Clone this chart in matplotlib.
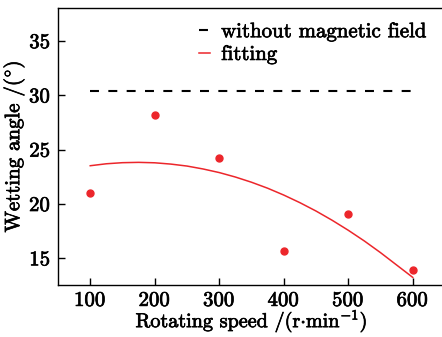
import matplotlib
matplotlib.use("Agg")
import matplotlib.pyplot as plt
import matplotlib.patheffects as pe

speed = [100, 200, 300, 400, 500, 600]
angle = [21.0, 28.2, 24.26, 15.67, 19.1, 13.9]

fit_x = [100, 125, 150, 175, 200, 225, 250, 275, 300, 325, 350, 375, 400,
         425, 450, 475, 500, 525, 550, 575, 600]
fit_y = [23.53, 23.71, 23.81, 23.84, 23.80, 23.68, 23.50, 23.23, 22.90, 22.49,
         22.01, 21.46, 20.83, 20.13, 19.36, 18.51, 17.59, 16.60, 15.53, 14.39, 13.25]

ref_x = [100, 600]
ref_y = [30.45, 30.45]

xticks = [100, 200, 300, 400, 500, 600]
yticks = [15, 20, 25, 30, 35]

plt.rcParams['font.family'] = ['cmr10', 'DejaVu Serif']
plt.rcParams['mathtext.fontset'] = 'cm'
plt.rcParams['axes.formatter.use_mathtext'] = True

fig = plt.figure(figsize=(4.42, 3.37), dpi=100)
W, H = 442, 337
left, right, top, bottom = 58, 445, 8, 285
ax = fig.add_axes([left / W, 1 - bottom / H, (right - left) / W, (bottom - top) / H])

red = '#ec262b'
ax.plot(ref_x, ref_y, color='black', lw=1.5, dashes=(4.3, 4.5), label='without magnetic field')
ax.plot(fit_x, fit_y, color=red, lw=1.1, label='fitting')
ax.plot(speed, angle, 'o', color=red, ms=5, mec=red)

ax.set_xlim(50, 650)
ax.set_ylim(12.55, 38.05)
ax.set_xticks(xticks)
ax.set_yticks(yticks)
ax.tick_params(direction='in', length=5, width=1, labelsize=15, pad=5, top=False, right=False)
for s in ax.spines.values():
    s.set_linewidth(1.0)

xl = ax.set_xlabel(r'Rotating speed /(r$\cdot$min$^{-1}$)', fontsize=14.5, labelpad=-1)
yl = ax.set_ylabel(r'Wetting angle /($^{\circ}$)', fontsize=15, labelpad=2)

leg = ax.legend(loc='upper right', frameon=False, fontsize=15, handlelength=0.5,
                handletextpad=0.55, labelspacing=0.2, borderaxespad=0.3,
                bbox_to_anchor=(0.99, 1.0))

stroke = [pe.withStroke(linewidth=0.5, foreground='black')]
texts = [xl, yl] + ax.get_xticklabels() + ax.get_yticklabels() + leg.get_texts()
for t in texts:
    t.set_path_effects(stroke)

fig.savefig('out.png', dpi=100)
